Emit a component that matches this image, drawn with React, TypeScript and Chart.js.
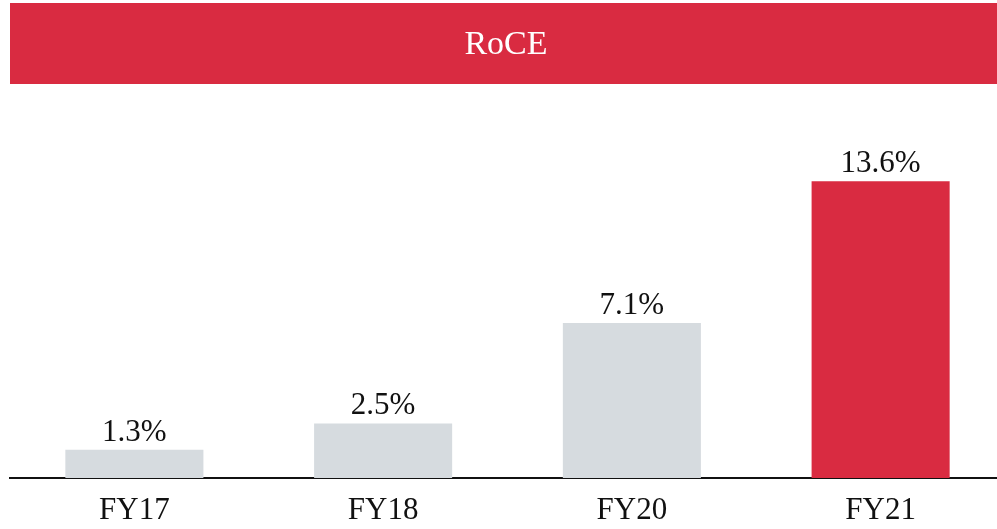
import React, { useEffect, useRef } from "react";
import { Chart, registerables } from "chart.js";

Chart.register(...registerables);

const titleText = "RoCE";
const categories = ["FY17", "FY18", "FY20", "FY21"];
const roceValues = [1.3, 2.5, 7.1, 13.6];
const barColors = ["#D6DBDF", "#D6DBDF", "#D6DBDF", "#D92B41"];
const valueLabels = ["1.3%", "2.5%", "7.1%", "13.6%"];

const FONT = "'Liberation Serif', 'DejaVu Serif', serif";

const bannerPlugin = {
  id: "banner",
  beforeDraw(chart: any) {
    const ctx = chart.ctx;
    ctx.save();
    ctx.fillStyle = "#D92B41";
    ctx.fillRect(10, 3, 987, 81);
    ctx.fillStyle = "#FFFFFF";
    ctx.font = `34px ${FONT}`;
    ctx.textAlign = "center";
    ctx.textBaseline = "middle";
    ctx.fillText(titleText, 506, 45);
    ctx.restore();
  },
};

const labelPlugin = {
  id: "valueLabels",
  afterDatasetsDraw(chart: any) {
    const ctx = chart.ctx;
    const meta = chart.getDatasetMeta(0);
    ctx.save();
    ctx.fillStyle = "#111111";
    ctx.font = `31px ${FONT}`;
    ctx.textAlign = "center";
    ctx.textBaseline = "alphabetic";
    meta.data.forEach((bar: any, i: number) => {
      ctx.fillText(valueLabels[i], bar.x, bar.y - 9);
    });
    ctx.restore();
  },
};

export default function App() {
  const ref = useRef<HTMLCanvasElement>(null);
  useEffect(() => {
    if (!ref.current) return;
    const chart = new Chart(ref.current, {
      type: "bar",
      data: {
        labels: categories,
        datasets: [
          {
            data: roceValues,
            backgroundColor: barColors,
            borderWidth: 0,
            barPercentage: 0.555,
            categoryPercentage: 1,
          },
        ],
      },
      options: {
        animation: false,
        responsive: false,
        maintainAspectRatio: false,
        layout: { padding: { top: 107, left: 10, right: 5, bottom: 0 } },
        plugins: {
          legend: { display: false },
          title: { display: false },
          tooltip: { enabled: false },
        },
        scales: {
          x: {
            grid: { display: false, drawTicks: false },
            border: { display: true, color: "#111111", width: 2 },
            ticks: {
              color: "#111111",
              font: { family: FONT, size: 31 },
              padding: 14,
            },
            afterFit(scale: any) {
              scale.height = 51;
            },
          },
          y: {
            display: false,
            min: 0,
            max: 17,
          },
        },
      },
      plugins: [bannerPlugin, labelPlugin],
    });
    return () => chart.destroy();
  }, []);
  return (
    <div
      style={{
        position: "fixed",
        left: 0,
        top: 0,
        width: 997,
        height: 529,
        overflow: "hidden",
        background: "#ffffff",
      }}
    >
      <canvas ref={ref} width={1010} height={529} style={{ display: "block" }} />
    </div>
  );
}
